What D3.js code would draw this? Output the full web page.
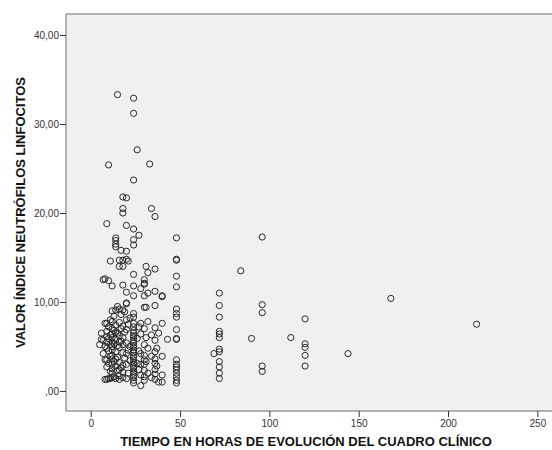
<!DOCTYPE html>
<html>
<head>
<meta charset="utf-8">
<script src="https://cdn.jsdelivr.net/npm/d3@7"></script>
<style>
  body { margin: 0; background: #fff; }
  svg { display: block; }
  .tick text { font-family: "Liberation Sans", Arial, sans-serif; font-size: 10px; fill: #333; }
  .titulo { font-family: "Liberation Sans", Arial, sans-serif; font-size: 13px; font-weight: bold; fill: #111; }
</style>
</head>
<body>
<div id="chart"></div>
<script>
// horas de evolucion (x) y, para cada una, los valores del indice N/L observados (y)
var horas = [5, 6, 7, 8, 9, 10, 11, 12, 13, 14, 15, 16, 17, 18, 19, 20, 21, 22, 24, 26, 27, 28,
  30, 31, 32, 33, 34, 36, 37, 38, 40, 43, 48, 69, 72, 84, 90, 96, 112, 120, 144, 168, 216];
var indiceNL = [
  [5.2],
  [5.8, 6.5],
  [12.5, 5.7, 4.2],
  [12.6, 7.6, 5.0, 3.5, 1.3],
  [18.8, 7.6, 6.7, 6.1, 5.5, 4.8, 3.5, 2.7, 1.3],
  [25.4, 12.4, 7.2, 5.9, 4.5, 3.1, 1.4],
  [14.6, 8.0, 6.3, 5.2, 3.9, 2.2, 1.4],
  [11.8, 9.0, 7.8, 7.0, 6.4, 6.0, 5.5, 5.0, 4.6, 4.0, 3.6, 3.0, 2.5, 2.0, 1.5],
  [8.4, 6.8, 5.3, 3.3, 1.6],
  [17.2, 16.9, 16.5, 16.2, 9.1, 7.4, 6.6, 5.8, 4.4, 3.6, 2.8, 1.4],
  [33.3, 9.5, 6.5, 5.1, 3.8, 2.3],
  [14.7, 14.0, 9.2, 7.7, 6.2, 5.5, 4.9, 3.2, 2.4, 1.7, 1.3],
  [15.8, 8.6, 7.0, 5.6, 2.6],
  [21.8, 20.5, 20.0, 14.7, 14.0, 11.9, 9.1, 7.3, 6.0, 5.2, 4.3, 2.9, 2.1, 1.5],
  [8.9, 6.6, 3.7],
  [21.7, 18.6, 15.7, 14.8, 11.1, 9.9, 9.8, 8.0, 6.9, 5.4, 4.2, 3.0, 1.4],
  [14.6, 7.5, 4.6, 2.0],
  [8.2, 5.0, 3.4],
  [32.9, 31.2, 23.7, 18.2, 17.0, 16.4, 13.1, 11.8, 10.7, 8.7, 8.3, 7.6, 7.2, 6.8, 6.5, 6.2, 6.0,
    5.7, 5.4, 5.1, 4.9, 4.6, 4.3, 4.0, 3.8, 3.5, 3.2, 3.0, 2.7, 2.5, 2.2, 2.0, 1.7, 1.5, 1.2, 0.9],
  [27.1, 5.9, 3.1],
  [17.5, 7.2, 4.5, 2.4],
  [11.5, 7.6, 6.4, 4.2, 3.0, 1.8, 0.6],
  [12.5, 12.1, 12.0, 10.7, 9.4, 7.0, 5.2, 4.0, 3.5, 3.0, 2.3, 1.6, 1.2],
  [14.0, 9.4, 6.0, 3.3],
  [13.3, 11.0, 7.8, 4.8, 2.0],
  [25.5],
  [20.5, 6.3, 3.9, 1.5],
  [19.6, 13.7, 11.2, 9.6, 7.1, 5.7, 4.4, 3.6, 3.1, 2.4, 1.9, 1.3],
  [4.8, 2.8],
  [6.5, 1.0],
  [10.6, 10.7, 7.6, 3.9, 1.8, 1.0],
  [5.8],
  [17.2, 14.8, 14.7, 12.9, 11.7, 9.2, 8.7, 8.3, 6.9, 5.9, 5.8, 3.5, 3.0, 2.7, 2.4, 2.0, 1.6, 1.2, 0.9],
  [4.2],
  [11.0, 9.6, 8.3, 6.7, 6.4, 6.0, 4.7, 4.4, 3.3, 2.7, 2.0, 1.4],
  [13.5],
  [5.9],
  [17.3, 9.7, 8.8, 2.8, 2.2],
  [6.0],
  [8.1, 5.3, 4.9, 4.0, 2.8],
  [4.2],
  [10.4],
  [7.5]
];
var xTicks = [0, 50, 100, 150, 200, 250];
var yTicks = [0, 10, 20, 30, 40];
var xTitulo = "TIEMPO EN HORAS DE EVOLUCIÓN DEL CUADRO CLÍNICO";
var yTitulo = "VALOR ÍNDICE NEUTRÓFILOS LINFOCITOS";

var width = 552, height = 450,
    plot = { left: 66, right: 552, top: 14, bottom: 411 };

var puntos = [];
horas.forEach(function (h, i) {
  indiceNL[i].forEach(function (v) { puntos.push({ x: h, y: v }); });
});

var svg = d3.select("#chart").append("svg")
    .attr("width", width)
    .attr("height", height);

var x = d3.scaleLinear().domain([-13.83, 258.2]).range([plot.left, plot.right]);
var y = d3.scaleLinear().domain([-2.25, 42.36]).range([plot.bottom, plot.top]);

// fondo del area de grafico
svg.append("rect")
    .attr("x", plot.left)
    .attr("y", plot.top)
    .attr("width", plot.right - plot.left + 2)
    .attr("height", plot.bottom - plot.top)
    .style("fill", "#f0f0f0")
    .style("stroke", "#6e6e6e")
    .style("stroke-width", 1);

var fmt = function (d) { return d === 0 ? ",00" : d3.format(".2f")(d).replace(".", ","); };

var xAxis = svg.append("g")
    .attr("transform", "translate(0," + plot.bottom + ")")
    .call(d3.axisBottom(x).tickValues(xTicks).tickSize(6).tickPadding(3));
xAxis.select(".domain").remove();
xAxis.selectAll("line").style("stroke", "#333");

var yAxis = svg.append("g")
    .attr("transform", "translate(" + plot.left + ",0)")
    .call(d3.axisLeft(y).tickValues(yTicks).tickFormat(fmt).tickSize(6).tickPadding(1));
yAxis.select(".domain").remove();
yAxis.selectAll("line").style("stroke", "#333");

svg.append("g")
  .selectAll("circle")
  .data(puntos)
  .enter().append("circle")
    .attr("cx", function (d) { return x(d.x); })
    .attr("cy", function (d) { return y(d.y); })
    .attr("r", 3.1)
    .style("fill", "none")
    .style("stroke", "#2a2a2a")
    .style("stroke-width", 1);

svg.append("text")
    .attr("class", "titulo")
    .attr("x", (plot.left + plot.right) / 2 - 3)
    .attr("y", 446)
    .style("text-anchor", "middle")
    .text(xTitulo);

svg.append("text")
    .attr("class", "titulo")
    .attr("transform", "translate(25," + (plot.top + plot.bottom) / 2 + ") rotate(-90)")
    .style("text-anchor", "middle")
    .text(yTitulo);
</script>
</body>
</html>
